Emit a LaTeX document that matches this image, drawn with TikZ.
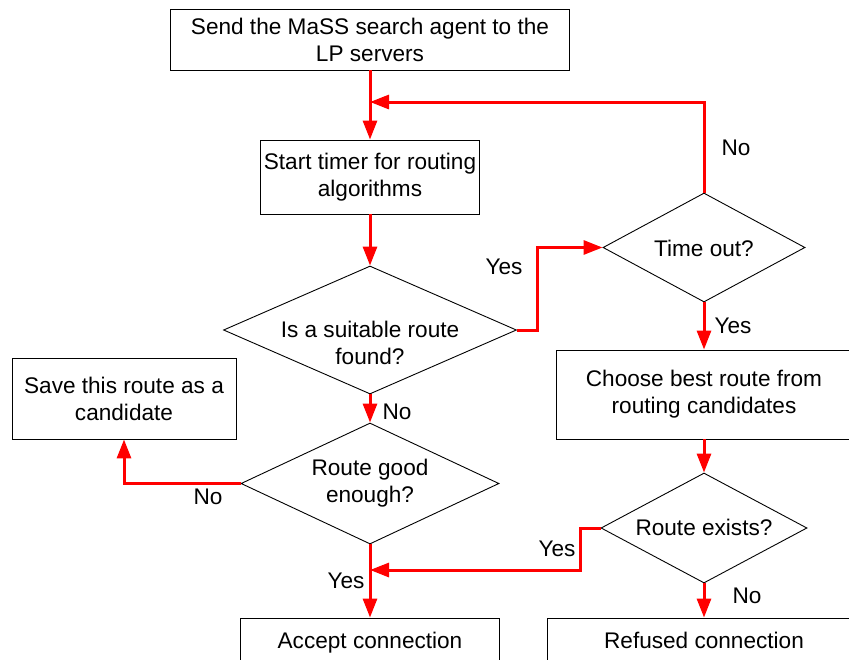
\documentclass[tikz,border=0pt]{standalone}
\usepackage{fontspec}
\setmainfont{Liberation Sans}
\usetikzlibrary{arrows.meta,shapes.geometric}
\newcommand\lab{\fontsize{22.6}{27}\selectfont}
\begin{document}
\begin{tikzpicture}[x=1pt,y=-1pt,
  box/.style={draw=black,line width=0.9pt,rectangle,inner sep=0pt,align=center,font=\lab},
  dia/.style={draw=black,line width=0.9pt,diamond,inner sep=0pt},
  txt/.style={align=center,font=\lab,inner sep=0pt},
  flow/.style={draw=red,line width=3pt,-{Triangle[length=19pt,width=14pt]}},
  lbl/.style={font=\lab,inner sep=0pt}]
\useasboundingbox (0,0) rectangle (849,659);
\clip (0,0) rectangle (849,659);
% boxes
\node[box,minimum width=399pt,minimum height=61pt] (b1) at (370,39.5) {Send the MaSS search agent to the\\LP servers};
\node[box,minimum width=219pt,minimum height=74pt] (b2) at (370,177) {Start timer for routing\\algorithms};
\node[box,minimum width=224pt,minimum height=81pt] (save) at (124,398.5) {Save this route as a\\candidate};
\node[box,minimum width=259pt,minimum height=50pt] (accept) at (370,643) {Accept connection};
\node[box,minimum width=296pt,minimum height=89pt] (choose) at (704,394.5) {Choose best route from\\routing candidates};
\node[box,minimum width=314pt,minimum height=44pt] (refused) at (704,640) {Refused connection};
% diamonds
\node[dia,minimum width=293pt,minimum height=128pt] (d1) at (370,330) {};
\node[txt] (d1t) at (370,343) {Is a suitable route\\found?};
\node[dia,minimum width=258pt,minimum height=121pt] (d2) at (370,483.5) {};
\node[txt] (d2t) at (370,483.5) {Route good\\enough?};
\node[dia,minimum width=202pt,minimum height=109pt] (td) at (704,247.5) {};
\node[txt] (tdt) at (704,248) {Time out?};
\node[dia,minimum width=206pt,minimum height=110pt] (d3) at (704,528) {};
\node[txt] (d3t) at (704,527) {Route exists?};
% junction points
\coordinate (j1) at (370,102);
\coordinate (j2) at (370,570);
% connectors
\draw[flow] (b1.south) -- (b2.north);
\draw[flow] (td.north) |- (j1);
\draw[flow] (b2.south) -- (d1.north);
\draw[flow] (d1.east) -- (537,330) |- (td.west);
\draw[flow] (td.south) -- (choose.north);
\draw[flow] (d1.south) -- (d2.north);
\draw[flow] (d2.west) -| (save.south);
\draw[flow] (d2.south) -- (accept.north);
\draw[flow] (choose.south) -- (d3.north);
\draw[flow] (d3.west) -- (580,528) |- (j2);
\draw[flow] (d3.south) -- (refused.north);
% labels
\node[lbl] (l1) at (736,148) {No};
\node[lbl] (l2) at (504,267) {Yes};
\node[lbl] (l3) at (733,326) {Yes};
\node[lbl] (l4) at (397,412) {No};
\node[lbl] (l5) at (208,497) {No};
\node[lbl] (l6) at (346,581) {Yes};
\node[lbl] (l7) at (557,549) {Yes};
\node[lbl] (l8) at (747,596) {No};
\end{tikzpicture}
\end{document}
